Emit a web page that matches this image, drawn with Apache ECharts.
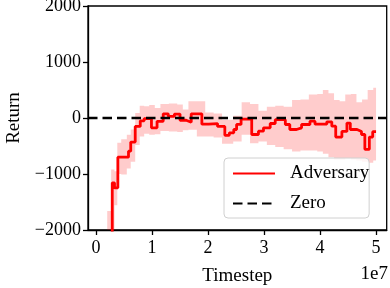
<!DOCTYPE html>
<html><head><meta charset="utf-8">
<script src="https://cdn.jsdelivr.net/npm/echarts@6/dist/echarts.min.js"></script>
<style>html,body{margin:0;padding:0;background:#fff}#c{width:390px;height:288px}</style>
</head><body><div id="c"></div>
<script>
// x in units of 1e7 timesteps
const meanX = [0.20,0.29,0.33,0.39,0.58,0.62,0.70,0.79,0.86,0.99,1.09,1.20,1.29,1.40,1.50,1.61,1.70,1.89,2.01,2.17,2.30,2.38,2.46,2.51,2.59,2.78,2.90,2.99,3.11,3.20,3.38,3.46,3.58,3.67,3.82,3.91,4.12,4.21,4.28,4.39,4.48,4.54,4.66,4.74,4.80,4.88,4.94,5.00];
const meanY = [-2600,-1158,-1247,-700,-593,-430,-150,-50,-10,-175,-60,75,30,70,-40,-75,75,-110,-100,-150,-310,-265,-205,-115,-20,-295,-235,-175,-98,-30,-116,-205,-175,-116,-57,-110,-68,-146,-340,-240,-90,-205,-240,-295,-560,-340,-245,-245];
const bandX = [0.15,0.20,0.27,0.33,0.38,0.45,0.55,0.62,0.70,0.78,0.86,0.95,1.05,1.15,1.30,1.45,1.55,1.65,1.80,1.95,2.10,2.25,2.45,2.60,2.75,2.90,3.05,3.20,3.35,3.50,3.65,3.80,3.95,4.05,4.15,4.25,4.35,4.45,4.55,4.65,4.75,4.85,4.95,5.00];
const bandUpper = [-2600,-1660,-920,-950,-440,-380,-300,-205,90,220,210,230,180,250,260,240,150,300,300,100,80,-30,40,280,250,130,200,220,200,320,330,420,430,500,440,320,300,420,430,280,330,500,540,540];
const bandLower = [-2600,-2600,-2600,-1560,-1000,-1010,-900,-780,-480,-330,-280,-300,-290,-230,-240,-250,-220,-210,-330,-330,-350,-460,-420,-300,-450,-420,-480,-520,-560,-600,-580,-580,-600,-640,-700,-740,-740,-720,-740,-760,-780,-800,-760,-760];
const xTicks = [0,1,2,3,4,5];
const zeroX = [-0.143,5.19];
const zeroY = [0,0];

const font = 'Liberation Serif';
const fmt = v => String(v).replace('-', '\u2212');
const chart = echarts.init(document.getElementById('c'), null, {renderer:'canvas'});

function bandRender(params, api){
  const clampY = v => Math.max(-2000, Math.min(2000, v));
  const pts = [];
  for (let i=0;i<bandX.length;i++){
    const xe = i<bandX.length-1 ? bandX[i+1] : bandX[i];
    pts.push(api.coord([bandX[i], clampY(bandUpper[i])]));
    pts.push(api.coord([xe, clampY(bandUpper[i])]));
  }
  for (let i=bandX.length-1;i>=0;i--){
    const xe = i<bandX.length-1 ? bandX[i+1] : bandX[i];
    pts.push(api.coord([xe, clampY(bandLower[i])]));
    pts.push(api.coord([bandX[i], clampY(bandLower[i])]));
  }
  return {type:'polygon', shape:{points:pts}, style:{fill:'rgba(255,0,0,0.2)'}, silent:true};
}

chart.setOption({
  animation:false,
  backgroundColor:'#fff',
  grid:{left:88,right:3.3,top:6,bottom:58,containLabel:false,outerBoundsMode:'none',show:true,borderColor:'#000',borderWidth:1.3,backgroundColor:'transparent'},
  xAxis:{type:'value',min:-0.143,max:5.19,
    name:'Timestep',nameLocation:'middle',nameGap:37,
    nameTextStyle:{fontFamily:font,fontSize:19,color:'#000'},
    axisLine:{show:true,onZero:false,lineStyle:{color:'#000',width:1.3}},
    axisTick:{show:true,length:5,lineStyle:{color:'#000',width:1.3},customValues:xTicks},
    axisLabel:{fontFamily:font,fontSize:18,color:'#000',margin:9,customValues:xTicks,formatter:fmt},
    splitLine:{show:false}},
  yAxis:{type:'value',min:-2000,max:2000,interval:1000,
    name:'Return',nameLocation:'middle',nameGap:64,
    nameTextStyle:{fontFamily:font,fontSize:19,color:'#000'},
    axisLine:{show:true,onZero:false,lineStyle:{color:'#000',width:1.3}},
    axisTick:{show:true,length:5,lineStyle:{color:'#000',width:1.3}},
    axisLabel:{fontFamily:font,fontSize:18,color:'#000',margin:7,padding:[4,0,0,0],formatter:fmt},
    splitLine:{show:false}},
  legend:{data:['Adversary','Zero'],orient:'vertical',left:224,top:158,
    itemWidth:42,itemHeight:14,itemGap:11,padding:[6,0,5,8],
    itemStyle:{color:'rgba(0,0,0,0)',borderWidth:0,opacity:0},
    backgroundColor:'rgba(255,255,255,0.8)',borderColor:'#d0d0d0',borderWidth:1,borderRadius:4,
    textStyle:{fontFamily:font,fontSize:19,color:'#000',padding:[0,0,0,10]}},
  graphic:[{type:'text',right:2,top:265,style:{text:'1e7',font:'19px "Liberation Serif"',fill:'#000'}}],
  series:[
    {name:'band',type:'custom',renderItem:bandRender,data:[[bandX[0],0]],encode:{x:0,y:1},z:1,silent:true,clip:true},
    {name:'Adversary',type:'line',step:'end',showSymbol:false,symbol:'none',
     lineStyle:{color:'#ff0000',width:2.8},itemStyle:{color:'#ff0000'},
     data:meanX.map((x,i)=>[x,meanY[i]]),z:3},
    {name:'Zero',type:'line',showSymbol:false,symbol:'none',
     lineStyle:{color:'#000',width:2.5,type:[9.5,5]},itemStyle:{color:'#000'},
     data:zeroX.map((x,i)=>[x,zeroY[i]]),z:4}
  ]
});
</script></body></html>
